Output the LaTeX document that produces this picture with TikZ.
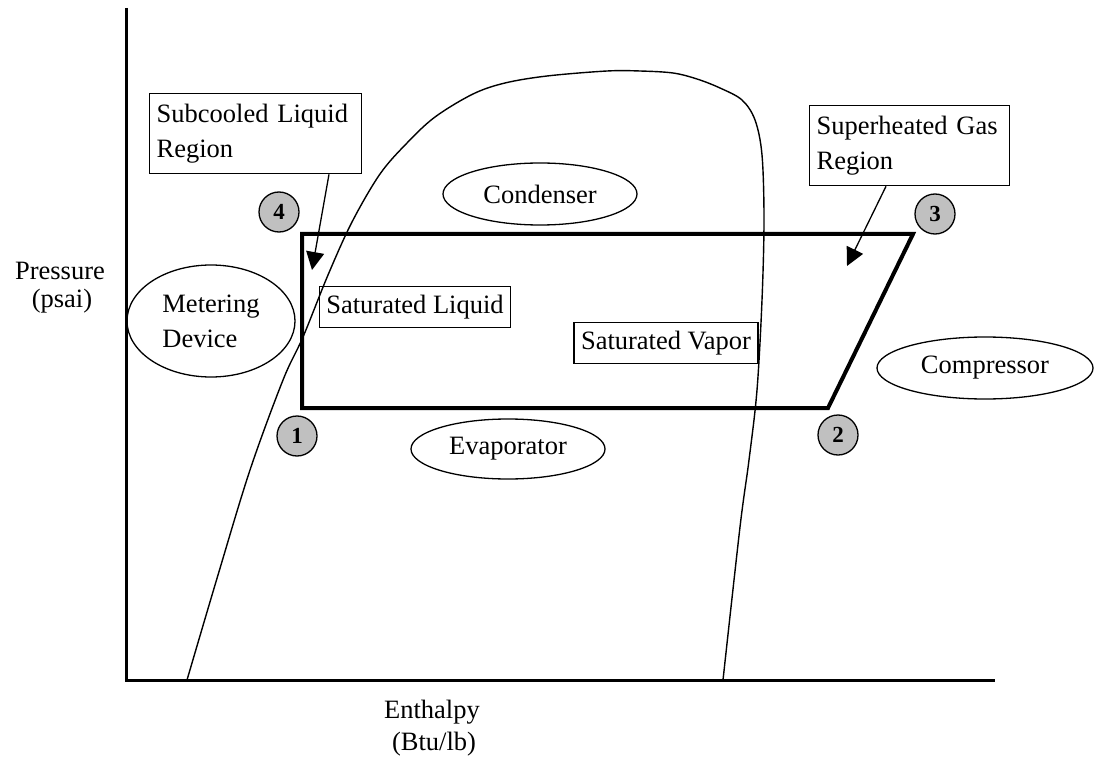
\documentclass[tikz,border=0pt]{standalone}
\usepackage{fontspec}
\setmainfont{Liberation Serif}
\usetikzlibrary{arrows.meta,shapes.geometric}
\definecolor{statefill}{HTML}{C0C0C0}
\begin{document}
\begin{tikzpicture}[x=1pt,y=-1pt,
  every node/.style={font=\fontsize{26.5}{35}\selectfont},
  labelbox/.style={draw,line width=1.3pt,inner xsep=7pt,inner ysep=0pt,align=left},
  device/.style={draw,ellipse,line width=1.3pt,inner sep=0pt},
  state/.style={draw,circle,fill=statefill,line width=1.3pt,minimum size=40pt,inner sep=0pt,
    font=\bfseries\fontsize{23}{23}\selectfont},
  pointer/.style={line width=1.3pt,-{Triangle[length=18pt,width=18pt]}},
  axis/.style={line width=3pt},
  cycleline/.style={line width=4pt,line join=miter},
  dome/.style={line width=1.4pt}]
\useasboundingbox (0,0) rectangle (1094,759);

% axes
\coordinate (ytop) at (126,8);
\coordinate (origin) at (126,680);
\coordinate (xend) at (995,680);
\draw[axis] (ytop) -- (origin) -- (xend);
\node (plabel) at (60,271) {Pressure};
\node (punit) at (62,301) {(psai)};
\node (hlabel) at (432,712) {Enthalpy};
\node (hunit) at (434,744) {(Btu/lb)};

% saturation dome
\draw[dome] plot[smooth,tension=0.55] coordinates {
  (187,680) (218,575) (250,470) (283,380) (303,337) (328,275) (352,222)
  (380,174) (407,143) (435,117) (473,94) (505,83) (547,76) (607,71)
  (640,71) (673,73) (697,79) (720,88) (742,100) (755,120) (762,155)
  (764,220) (762,300) (757,390) (749,460) (740,527) (723,680)};

% refrigeration cycle
\coordinate (p1) at (302,408);
\coordinate (p2) at (828,408);
\coordinate (p3) at (913,234);
\coordinate (p4) at (302,234);
\draw[cycleline] (p1) -- (p2) -- (p3) -- (p4) -- cycle;

% state points
\node[state] (s1) at (297,436) {1};
\node[state] (s2) at (838,435) {2};
\node[state] (s3) at (935,214) {3};
\node[state] (s4) at (279,212) {4};

% components
\node[device,minimum width=194pt,minimum height=62pt] (cond) at (540,194) {Condenser};
\node[device,minimum width=194pt,minimum height=60pt] (evap) at (508,449) {Evaporator};
\node[device,minimum width=216pt,minimum height=62pt] (comp) at (985,368) {Compressor};
\node[device,minimum width=168pt,minimum height=112pt,align=left] (meter) at (211,321) {Metering\\Device};

% region labels
\node[labelbox,anchor=north west,text width=198pt,minimum height=80pt] (subc) at (149,93)
  {Subcooled Liquid\\Region};
\node[labelbox,anchor=north west,text width=186pt,minimum height=80pt] (suph) at (809,105)
  {Superheated Gas\\Region};
\node[labelbox,minimum height=41pt] (satl) at (415,307) {Saturated Liquid};
\node[labelbox,minimum height=41pt] (satv) at (666,343) {Saturated Vapor};

% pointers into the regions
\coordinate (subtip) at (312,270);
\coordinate (suptip) at (847,266);
\draw[pointer] (subc.south west -| 329,0) -- (subtip);
\draw[pointer] (suph.south west -| 886,0) -- (suptip);
\end{tikzpicture}
\end{document}
